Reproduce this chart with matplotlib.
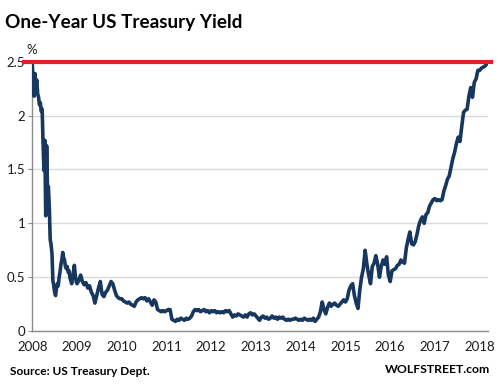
"""One-Year US Treasury Yield, 2008 - early 2018 (WOLFSTREET style)."""

import numpy as np
import matplotlib
matplotlib.use("Agg")
import matplotlib.pyplot as plt

# yields (%), one list per calendar year,
# evenly spaced through the year (2008 sampled twice as densely)
y2008 = [2.48, 2.30, 2.18, 2.39, 2.28, 2.33, 2.20, 2.17, 2.10, 2.12,
         2.04, 2.06, 1.75, 1.49, 1.77, 1.07, 1.72, 1.30, 1.34, 1.15,
         0.85, 0.80, 0.72, 0.47, 0.42, 0.36, 0.33, 0.40, 0.44, 0.42,
         0.50, 0.55, 0.62, 0.66, 0.73, 0.68, 0.66, 0.60, 0.58, 0.60,
         0.55, 0.56, 0.50, 0.47, 0.44, 0.50, 0.55, 0.61, 0.52, 0.46]
y2009 = [0.44, 0.47, 0.52, 0.46, 0.43, 0.45, 0.40, 0.42, 0.36, 0.33,
         0.26, 0.33, 0.40, 0.46, 0.34, 0.32, 0.36, 0.38, 0.42, 0.46,
         0.44, 0.38, 0.33, 0.31, 0.30]
y2010 = [0.30, 0.28, 0.27, 0.26, 0.27, 0.25, 0.24, 0.23, 0.27, 0.29,
         0.30, 0.31, 0.30, 0.31, 0.28, 0.30, 0.27, 0.24, 0.29, 0.27,
         0.20, 0.19, 0.18, 0.19, 0.18]
y2011 = [0.19, 0.20, 0.20, 0.11, 0.10, 0.09, 0.11, 0.10, 0.12, 0.11,
         0.10, 0.12, 0.11, 0.12, 0.14, 0.18, 0.20, 0.19, 0.20, 0.18,
         0.19, 0.20, 0.18, 0.19, 0.17]
y2012 = [0.19, 0.18, 0.19, 0.17, 0.18, 0.17, 0.18, 0.17, 0.19, 0.18,
         0.19, 0.16, 0.13, 0.15, 0.14, 0.16, 0.15, 0.14, 0.13, 0.15,
         0.13, 0.16, 0.17, 0.15, 0.16]
y2013 = [0.14, 0.12, 0.10, 0.13, 0.14, 0.12, 0.13, 0.11, 0.12, 0.14,
         0.12, 0.13, 0.11, 0.13, 0.12, 0.13, 0.11, 0.10, 0.11, 0.10,
         0.11, 0.11, 0.12, 0.11, 0.10]
y2014 = [0.11, 0.10, 0.12, 0.11, 0.10, 0.11, 0.10, 0.12, 0.09, 0.11,
         0.13, 0.18, 0.27, 0.20, 0.16, 0.22, 0.26, 0.23, 0.25, 0.26,
         0.24, 0.23, 0.25, 0.27, 0.29]
y2015 = [0.27, 0.30, 0.38, 0.42, 0.44, 0.33, 0.26, 0.21, 0.38, 0.50,
         0.58, 0.75, 0.62, 0.52, 0.44, 0.60, 0.63, 0.70, 0.62, 0.50,
         0.60, 0.66, 0.62, 0.69, 0.52]
y2016 = [0.46, 0.56, 0.57, 0.58, 0.61, 0.62, 0.66, 0.64, 0.63, 0.77,
         0.85, 0.92, 0.81, 0.80, 0.83, 0.90, 0.98, 1.03, 1.06, 1.00,
         1.08, 1.10, 1.16, 1.19, 1.22]
y2017 = [1.23, 1.21, 1.22, 1.21, 1.22, 1.30, 1.35, 1.41, 1.44, 1.52,
         1.60, 1.66, 1.74, 1.80, 1.76, 1.90, 2.03, 2.05, 2.06, 2.18,
         2.26, 2.17, 2.31, 2.34, 2.42]
y2018 = [2.42, 2.44, 2.45, 2.46, 2.48]

YEARS = {2008: y2008, 2009: y2009, 2010: y2010, 2011: y2011, 2012: y2012,
         2013: y2013, 2014: y2014, 2015: y2015, 2016: y2016, 2017: y2017,
         2018: y2018}
STEP = {2008: 1 / 50}   # others: 1/25 year

y_ticks = [0, 0.5, 1, 1.5, 2, 2.5]
y_labels = ["0", "0.5", "1", "1.5", "2", "2.5"]
x_ticks = list(range(2008, 2019))
level = 2.5             # red reference line

NAVY = "#17375e"
RED = "#e3202a"
FONT = ["Lato", "DejaVu Sans"]

t, v = [], []
for yr, vals in YEARS.items():
    step = STEP.get(yr, 1 / 25)
    t.extend(yr + np.arange(len(vals)) * step)
    v.extend(vals)

plt.rcParams["font.family"] = FONT
fig = plt.figure(figsize=(4.97, 3.85), dpi=100)
ax = fig.add_axes([0.065, 0.140, 0.9163, 0.6997])

ax.plot(t, v, color=NAVY, lw=2.6, solid_joinstyle="round", zorder=3)
ax.axhline(level, xmin=-0.018, xmax=1.008, color=RED, lw=3.0,
           clip_on=False, zorder=4)

ax.set_xlim(2008.0, 2018.18)
ax.set_ylim(0, 2.5)
ax.set_yticks(y_ticks)
ax.set_yticklabels(y_labels)
ax.set_xticks(x_ticks)
ax.set_xticklabels([str(x) for x in x_ticks])
ax.grid(axis="y", color="#d9d9d9", lw=1.0, zorder=0)
ax.set_axisbelow(True)

for s in ("top", "right"):
    ax.spines[s].set_visible(False)
for s in ("left", "bottom"):
    ax.spines[s].set_color("#8c8c8c")
    ax.spines[s].set_linewidth(1.0)
ax.tick_params(axis="y", length=3, color="#8c8c8c", pad=2,
               labelsize=9.5, labelcolor="#1a1a1a")
ax.tick_params(axis="x", length=0, pad=7, labelsize=9.5, labelcolor="#1a1a1a")

fig.text(0.010, 0.942, "One-Year US Treasury Yield", fontsize=13.6,
         fontweight="bold", ha="left", va="center", color="black")
fig.text(0.063, 0.870, "%", fontsize=9.5, ha="center", va="center",
         color="#1a1a1a")
fig.text(0.020, 0.036, "Source: US Treasury Dept.", fontsize=8.6,
         fontweight="bold", ha="left", va="center", color="black")
fig.text(0.986, 0.041, "WOLFSTREET.com", fontsize=8.8,
         fontweight="bold", ha="right", va="center", color="black")

fig.savefig("out.png", dpi=100)
